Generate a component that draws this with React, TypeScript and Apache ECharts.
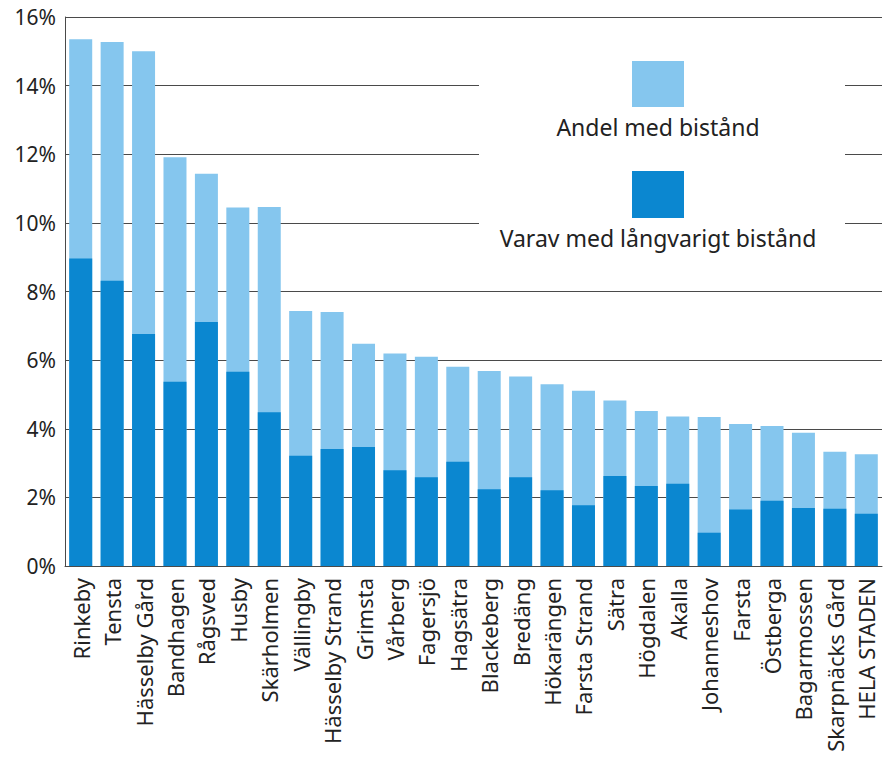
import React, { useEffect, useRef } from "react";
import * as echarts from "echarts";

const categories = [
  "Rinkeby", "Tensta", "Hässelby Gård", "Bandhagen", "Rågsved", "Husby", "Skärholmen",
  "Vällingby", "Hässelby Strand", "Grimsta", "Vårberg", "Fagersjö", "Hagsätra", "Blackeberg",
  "Bredäng", "Hökarängen", "Farsta Strand", "Sätra", "Högdalen", "Akalla", "Johanneshov",
  "Farsta", "Östberga", "Bagarmossen", "Skarpnäcks Gård", "HELA STADEN",
];

const andelMedBistand = [
  15.35, 15.27, 15.0, 11.91, 11.43, 10.45, 10.46, 7.43, 7.4, 6.48, 6.19, 6.1, 5.81, 5.68,
  5.52, 5.3, 5.11, 4.82, 4.52, 4.36, 4.34, 4.14, 4.08, 3.88, 3.33, 3.26,
];

const varavLangvarigt = [
  8.96, 8.31, 6.76, 5.37, 7.11, 5.66, 4.48, 3.21, 3.41, 3.47, 2.79, 2.59, 3.04, 2.24,
  2.59, 2.21, 1.77, 2.62, 2.33, 2.4, 0.97, 1.65, 1.9, 1.69, 1.67, 1.52,
];

const seriesNames = ["Andel med bistånd", "Varav med långvarigt bistånd"];
const yTicks = { min: 0, max: 16, interval: 2 };

const LIGHT = "#85c6ee";
const DARK = "#0b87d0";
const TEXT = "#222222";
const LINE = "#4a4a4a";
const FONT = "'Noto Sans', sans-serif";

export default function App() {
  const ref = useRef<HTMLDivElement>(null);

  useEffect(() => {
    if (!ref.current) return;
    const chart = echarts.init(ref.current, undefined, { renderer: "svg" });
    chart.setOption({
      animation: false,
      backgroundColor: "#ffffff",
      textStyle: { fontFamily: FONT, color: TEXT },
      grid: { left: 65, right: 2, top: 17, bottom: 194, containLabel: false },
      xAxis: {
        type: "category",
        data: categories,
        axisLine: { show: true, lineStyle: { color: LINE, width: 1 } },
        axisTick: { show: false },
        axisLabel: {
          rotate: 90,
          fontSize: 22,
          margin: 12,
          color: TEXT,
          fontFamily: FONT,
          interval: 0,
        },
      },
      yAxis: {
        type: "value",
        min: yTicks.min,
        max: yTicks.max,
        interval: yTicks.interval,
        axisLine: { show: true, lineStyle: { color: LINE, width: 1 } },
        axisTick: { show: false },
        axisLabel: {
          formatter: "{value}%",
          fontSize: 21,
          margin: 9,
          color: TEXT,
          fontFamily: FONT,
        },
        splitLine: { show: true, lineStyle: { color: LINE, width: 1 } },
      },
      series: [
        {
          name: seriesNames[0],
          type: "bar",
          data: andelMedBistand,
          barWidth: 23,
          barGap: "-100%",
          itemStyle: { color: LIGHT },
          z: 3,
        },
        {
          name: seriesNames[1],
          type: "bar",
          data: varavLangvarigt,
          barWidth: 23,
          barGap: "-100%",
          itemStyle: { color: DARK },
          z: 4,
        },
      ],
      graphic: [
        {
          type: "rect",
          shape: { x: 479, y: 60, width: 366, height: 200 },
          style: { fill: "#ffffff" },
          z: 1,
          silent: true,
        },
        {
          type: "rect",
          shape: { x: 632, y: 61, width: 52, height: 46 },
          style: { fill: LIGHT },
          z: 5,
        },
        {
          type: "text",
          x: 658,
          y: 127,
          style: {
            text: seriesNames[0],
            fill: TEXT,
            font: `23px ${FONT}`,
            align: "center",
            verticalAlign: "middle",
          },
          z: 5,
        },
        {
          type: "rect",
          shape: { x: 632, y: 171, width: 52, height: 47 },
          style: { fill: DARK },
          z: 5,
        },
        {
          type: "text",
          x: 658,
          y: 238,
          style: {
            text: seriesNames[1],
            fill: TEXT,
            font: `23px ${FONT}`,
            align: "center",
            verticalAlign: "middle",
          },
          z: 5,
        },
      ],
    });
    return () => chart.dispose();
  }, []);

  return (
    <div
      ref={ref}
      style={{ position: "fixed", left: 0, top: 0, width: 884, height: 760 }}
    />
  );
}
